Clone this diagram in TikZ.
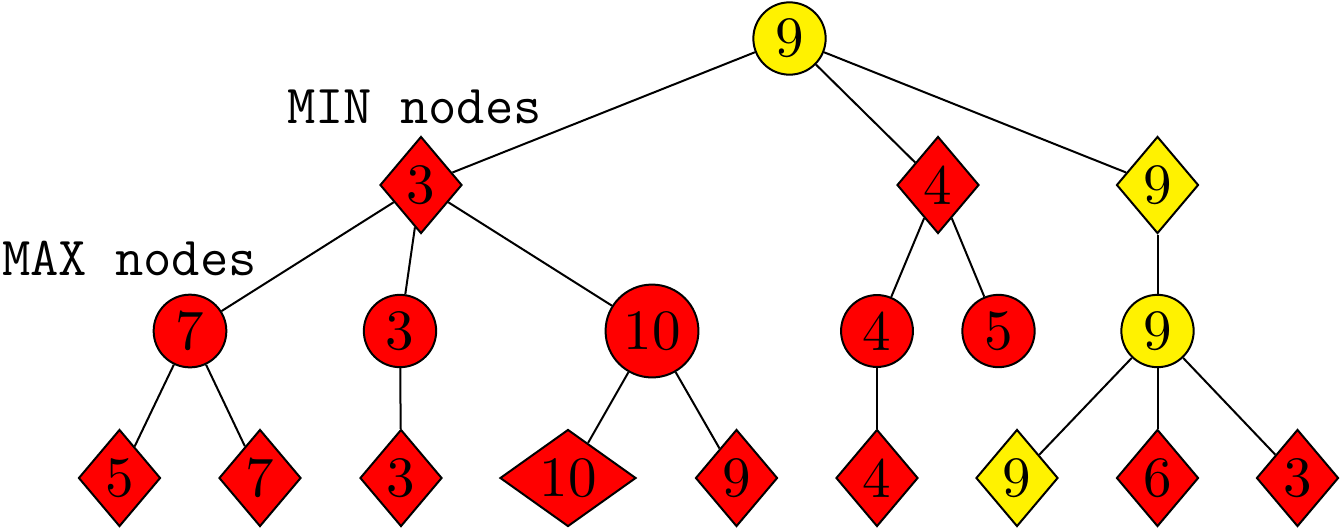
\documentclass[tikz,border=0pt]{standalone}
\usepackage{fontspec}
\newfontfamily\nodefont{lmroman10-regular.otf}
\usetikzlibrary{shapes.geometric}
\definecolor{bestyellow}{RGB}{255,242,0}
\begin{document}
\begin{tikzpicture}[x=1pt,y=-1pt,
  every node/.style={font=\nodefont\fontsize{57}{60}\selectfont, line width=2pt},
  maxnode/.style={circle,draw,fill=red,inner sep=8.5pt},
  minnode/.style={diamond,draw,fill=red,inner sep=0pt,minimum width=82pt,minimum height=97pt},
  best/.style={fill=bestyellow},
  edge/.style={line width=2pt},
  caption/.style={font=\ttfamily\fontsize{55}{58}\selectfont,anchor=base west,inner sep=0pt,line width=0pt}]
\useasboundingbox (0,0) rectangle (1343,531);

% root (MAX)
\node[maxnode,best] (r) at (789.5,38.5) {9};

% MIN level
\node[minnode] (a) at (421,185) {3};
\node[minnode] (b) at (938,185) {4};
\node[minnode,best] (c) at (1157.5,185) {9};

% MAX level
\node[maxnode] (a1) at (190,331) {7};
\node[maxnode] (a2) at (400,331) {3};
\node[maxnode] (a3) at (652,331) {10};
\node[maxnode] (b1) at (877,331) {4};
\node[maxnode] (b2) at (998.5,331) {5};
\node[maxnode,best] (c1) at (1157.5,331) {9};

% leaves (MIN)
\node[minnode] (a11) at (119.5,478) {5};
\node[minnode] (a12) at (260,478) {7};
\node[minnode] (a21) at (401,478) {3};
\node[minnode,minimum width=136pt] (a31) at (568,478) {10};
\node[minnode] (a32) at (736.5,478) {9};
\node[minnode] (b11) at (877,478) {4};
\node[minnode,best] (c11) at (1017,478) {9};
\node[minnode] (c12) at (1157.5,478) {6};
\node[minnode] (c13) at (1297.5,478) {3};

% tree edges
\draw[edge] (r) -- (a);
\draw[edge] (r) -- (b);
\draw[edge] (r) -- (c);
\draw[edge] (a) -- (a1);
\draw[edge] (a) -- (a2);
\draw[edge] (a) -- (a3);
\draw[edge] (b) -- (b1);
\draw[edge] (b) -- (b2);
\draw[edge] (c) -- (c1);
\draw[edge] (a1) -- (a11);
\draw[edge] (a1) -- (a12);
\draw[edge] (a2) -- (a21);
\draw[edge] (a3) -- (a31);
\draw[edge] (a3) -- (a32);
\draw[edge] (b1) -- (b11);
\draw[edge] (c1) -- (c11);
\draw[edge] (c1) -- (c12);
\draw[edge] (c1) -- (c13);

% level captions
\node[caption] (minlabel) at (287,123) {MIN nodes};
\node[caption] (maxlabel) at (2,275) {MAX nodes};
\end{tikzpicture}
\end{document}
